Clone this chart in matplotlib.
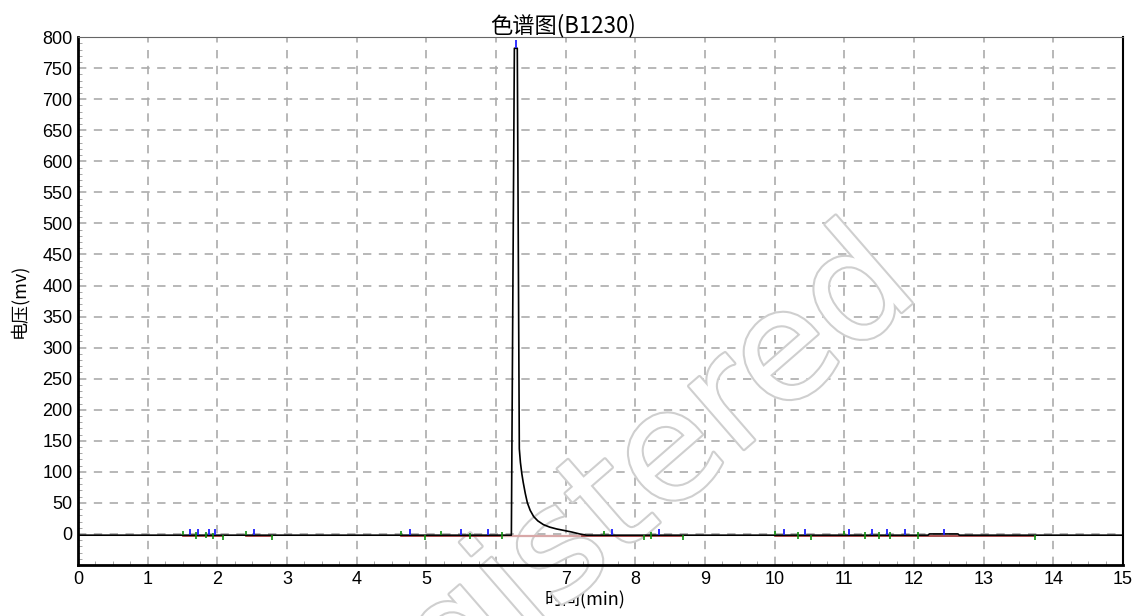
import numpy as np
import matplotlib
matplotlib.use('Agg')
import matplotlib.pyplot as plt
import matplotlib.patheffects as pe
from matplotlib.ticker import MultipleLocator

matplotlib.rcParams['font.family'] = ['Liberation Sans', 'Noto Sans CJK SC']

# chromatogram trace (min, mv)
time_min = [0, 6.0, 6.22, 6.263, 6.305, 6.334, 6.35, 6.37, 6.39, 6.42, 6.45, 6.49, 6.54,
            6.60, 6.68, 6.77, 6.87, 6.96, 7.09, 7.2, 7.3,
            12.2, 12.22, 12.63, 12.65, 15]
signal_mv = [-2, -2, -2, 782, 782, 137, 115, 97, 83, 65, 50, 38, 28,
             21, 15, 11, 8, 6, 3, 0, -2,
             -2, 0, 0, -2, -2]

# integration baselines
base_start = [1.51, 2.41, 4.63, 7.2, 10.01]
base_end = [2.08, 2.78, 6.09, 8.69, 13.73]
tail_start, tail_end = 6.09, 7.2

# peak apex markers (blue) and start/end markers (green)
apex_x = [1.60, 1.72, 1.88, 1.96, 2.53, 4.77, 5.49, 5.88, 7.67, 8.34,
          10.14, 10.44, 11.06, 11.39, 11.61, 11.87, 12.43]
green_x = [1.51, 1.69, 1.83, 1.94, 2.08, 2.41, 2.78, 4.63, 4.98, 5.21, 5.62, 6.09,
           7.55, 8.13, 8.22, 8.69, 10.01, 10.34, 10.52, 11.0, 11.29, 11.50, 11.66,
           12.05, 13.73]
green_lo = [-2, -8, -7, -8, -9, -2, -9, -2, -9, -2, -8, -8,
            -2, -9, -8, -9, -2, -8, -9, -2, -8, -8, -8, -8, -9]
green_hi = [4, 3, 3, 2, -2, 4, -2, 4, -2, 4, 2, 3,
            4, -2, 3, -2, 4, 3, -2, 4, 3, 3, 3, 3, -2]

fig = plt.figure(figsize=(11.36, 6.16), dpi=100)
ax = fig.add_axes([0.0687, 0.0828, 0.9199, 0.857])

ax.grid(True, which='major', color='#ababab', linestyle=(0, (5, 4.5)), linewidth=1.2)
ax.set_axisbelow(True)

# watermark: above grid and axis labels, below the trace
ax.text(0.46, 0.05, 'Unregistered', transform=fig.transFigure, fontsize=110, rotation=41,
        ha='center', va='center', color='white', family='DejaVu Sans', zorder=1.5,
        clip_on=False, path_effects=[pe.withStroke(linewidth=3, foreground='#cfcfcf')])

for s, e in zip(base_start, base_end):
    ax.plot([s, e], [-3, -3], color='#9a3030', lw=1.2, zorder=3)
ax.plot([tail_start, tail_end], [-4, -4], color='#d8a8a8', lw=1.6, zorder=3)

ax.plot(time_min, signal_mv, color='black', lw=1.2, zorder=4)

ax.vlines(apex_x, -2, 8, color='#2020ff', lw=1.3, zorder=5)
ax.vlines([6.29], 782, 795, color='#2020ff', lw=1.3, zorder=5)
ax.vlines(green_x, green_lo, green_hi, color='#109010', lw=1.2, zorder=5)

ax.set_xlim(0, 15)
ax.set_ylim(-50, 800)
ax.xaxis.set_major_locator(MultipleLocator(1))
ax.xaxis.set_minor_locator(MultipleLocator(0.25))
ax.yaxis.set_minor_locator(MultipleLocator(10))
ax.set_yticks(np.arange(0, 801, 50))
ax.tick_params(which='major', length=0, labelsize=13, pad=4)
ax.tick_params(which='minor', direction='in', length=3, color='#999999')

ax.spines['top'].set_color('#666666')
ax.spines['left'].set_linewidth(2)
ax.spines['bottom'].set_linewidth(2)
ax.spines['right'].set_linewidth(1.5)

ax.set_title('色谱图(B1230)', fontsize=16, x=0.464, pad=2, family=['Noto Sans CJK SC'])
ax.set_xlabel('时间(min)', fontsize=13, family=['Noto Sans CJK SC'])
ax.set_ylabel('电压(mv)', fontsize=13, family=['Noto Sans CJK SC'])
ax.xaxis.set_label_coords(0.485, -0.047)
ax.yaxis.set_label_coords(-0.048, 0.5)

fig.savefig('out.png', dpi=100)
